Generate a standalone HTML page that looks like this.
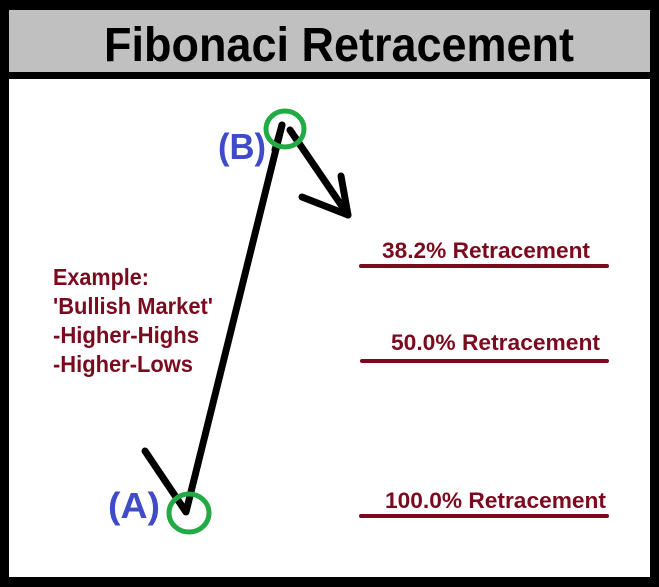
<!DOCTYPE html>
<html><head><style>html,body{margin:0;padding:0;background:#fff}svg{display:block}</style></head>
<body>
<svg width="659" height="587" viewBox="0 0 659 587" xmlns="http://www.w3.org/2000/svg">
<rect x="0" y="0" width="659" height="587" fill="#000"/>
<rect x="9" y="10" width="641" height="62" fill="#c0c0c0"/>
<rect x="9" y="79" width="641" height="498" fill="#fff"/>
<text x="104" y="61" font-family="Liberation Sans, sans-serif" font-weight="bold" font-size="48" textLength="470" lengthAdjust="spacingAndGlyphs" fill="#000">Fibonaci Retracement</text>
<g font-family="Liberation Sans, sans-serif" font-weight="bold" fill="#7b0a1f" font-size="23">
<text x="53" y="285" textLength="96" lengthAdjust="spacingAndGlyphs">Example:</text>
<text x="53" y="314" textLength="160" lengthAdjust="spacingAndGlyphs">'Bullish Market'</text>
<text x="53" y="343" textLength="146" lengthAdjust="spacingAndGlyphs">-Higher-Highs</text>
<text x="53" y="372" textLength="140" lengthAdjust="spacingAndGlyphs">-Higher-Lows</text>
</g>
<g font-family="Liberation Sans, sans-serif" font-weight="bold" fill="#7b0a1f" font-size="22">
<text x="382" y="258" textLength="208" lengthAdjust="spacingAndGlyphs">38.2% Retracement</text>
<text x="391" y="350" textLength="209" lengthAdjust="spacingAndGlyphs">50.0% Retracement</text>
<text x="385" y="508" textLength="221" lengthAdjust="spacingAndGlyphs">100.0% Retracement</text>
</g>
<g stroke="#7b0a1f" stroke-width="4" stroke-linecap="round">
<line x1="361" y1="266" x2="607" y2="266"/>
<line x1="362" y1="361" x2="607" y2="361"/>
<line x1="361" y1="516" x2="607" y2="516"/>
</g>
<g font-family="Liberation Sans, sans-serif" font-weight="bold" fill="#3f4bc9" font-size="36">
<text x="218" y="159" textLength="48" lengthAdjust="spacingAndGlyphs">(B)</text>
<text x="108" y="518" textLength="52" lengthAdjust="spacingAndGlyphs">(A)</text>
</g>
<g stroke="#000" stroke-width="7" stroke-linecap="round" stroke-linejoin="round" fill="none">
<polyline points="145,451 186,512 282,125"/>
<line x1="282" y1="125" x2="275" y2="150"/>
<line x1="290" y1="130" x2="348" y2="215"/>
<polyline points="302,197 348,215 341,176"/>
</g>
<ellipse cx="285" cy="129" rx="19" ry="18" fill="none" stroke="#22aa44" stroke-width="5"/>
<ellipse cx="189" cy="513" rx="20" ry="19" fill="none" stroke="#22aa44" stroke-width="5"/>
</svg>
</body></html>
